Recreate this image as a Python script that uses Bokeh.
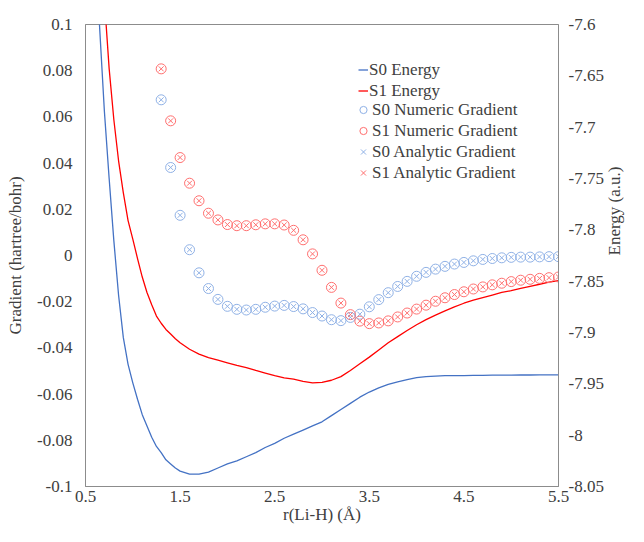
import math
from bokeh.plotting import figure
from bokeh.models import Range1d, LinearAxis, FixedTicker, Legend, LegendItem
from bokeh.embed import file_html
from bokeh.resources import INLINE

# ---- data ----
r_energy = [0.60, 0.65, 0.70, 0.75, 0.80, 0.85, 0.90, 0.95, 1.00, 1.05, 1.10, 1.15,
            1.20, 1.25, 1.30, 1.35, 1.40, 1.45, 1.50, 1.60, 1.70, 1.80, 1.90, 2.00,
            2.10, 2.20, 2.30, 2.40, 2.50, 2.60, 2.70, 2.80, 2.90, 3.00, 3.10, 3.20,
            3.30, 3.40, 3.50, 3.60, 3.70, 3.80, 3.90, 4.00, 4.10, 4.20, 4.30, 4.40,
            4.50, 4.60, 4.70, 4.80, 4.90, 5.00, 5.10, 5.20, 5.30, 5.40, 5.50]
s0_energy = [-7.520, -7.604, -7.685, -7.750, -7.811, -7.864, -7.905, -7.931, -7.949, -7.965,
             -7.980, -7.991, -8.002, -8.011, -8.017, -8.024, -8.028, -8.032, -8.035, -8.038,
             -8.038, -8.036, -8.032, -8.028, -8.025, -8.021, -8.017, -8.012, -8.008, -8.003,
             -7.999, -7.995, -7.991, -7.987, -7.981, -7.975, -7.969, -7.963, -7.958, -7.954,
             -7.9505, -7.948, -7.946, -7.944, -7.943, -7.9425, -7.942, -7.942, -7.942, -7.9418,
             -7.9417, -7.9416, -7.9415, -7.9415, -7.9414, -7.9414, -7.9413, -7.9413, -7.9413]
s1_energy = [-7.430, -7.500, -7.576, -7.643, -7.693, -7.733, -7.764, -7.791, -7.809, -7.828,
             -7.846, -7.861, -7.873, -7.884, -7.891, -7.897, -7.9015, -7.906, -7.910, -7.9163,
             -7.921, -7.9245, -7.927, -7.9295, -7.932, -7.9343, -7.937, -7.9395, -7.942, -7.9442,
             -7.9455, -7.9475, -7.949, -7.9485, -7.9465, -7.943, -7.937, -7.9305, -7.924, -7.917,
             -7.910, -7.904, -7.898, -7.8925, -7.8875, -7.883, -7.879, -7.875, -7.8715, -7.8685,
             -7.866, -7.8635, -7.861, -7.8593, -7.857, -7.855, -7.853, -7.851, -7.8495]

r_grad = [1.3, 1.4, 1.5, 1.6, 1.7, 1.8, 1.9, 2.0, 2.1, 2.2, 2.3, 2.4, 2.5, 2.6, 2.7,
          2.8, 2.9, 3.0, 3.1, 3.2, 3.3, 3.4, 3.5, 3.6, 3.7, 3.8, 3.9, 4.0, 4.1, 4.2,
          4.3, 4.4, 4.5, 4.6, 4.7, 4.8, 4.9, 5.0, 5.1, 5.2, 5.3, 5.4, 5.5]
s0_grad = [0.0674, 0.0381, 0.0174, 0.0025, -0.0075, -0.0143, -0.0190, -0.0220, -0.0233, -0.0236,
           -0.0233, -0.0224, -0.0219, -0.0216, -0.0221, -0.0231, -0.0247, -0.0262, -0.0278, -0.0282,
           -0.0268, -0.0254, -0.0222, -0.0191, -0.0161, -0.0134, -0.0112, -0.0090, -0.0073, -0.0059,
           -0.0047, -0.0037, -0.0030, -0.0023, -0.0017, -0.0013, -0.0010, -0.0008, -0.0007, -0.0007,
           -0.0006, -0.0005, -0.0005]
s1_grad = [0.0808, 0.0583, 0.0424, 0.0313, 0.0237, 0.0183, 0.0154, 0.0134, 0.0129, 0.0129,
           0.0133, 0.0137, 0.0137, 0.0132, 0.0109, 0.0068, 0.0007, -0.0064, -0.0138, -0.0206,
           -0.0256, -0.0284, -0.0295, -0.0292, -0.0283, -0.0266, -0.0249, -0.0232, -0.0215, -0.0198,
           -0.0183, -0.0169, -0.0157, -0.0145, -0.0136, -0.0127, -0.0120, -0.0113, -0.0107, -0.0103,
           -0.0099, -0.0096, -0.0093]

x_ticks = [0.5, 1.5, 2.5, 3.5, 4.5, 5.5]
x_tick_labels = ["0.5", "1.5", "2.5", "3.5", "4.5", "5.5"]
grad_ticks = [-0.1, -0.08, -0.06, -0.04, -0.02, 0, 0.02, 0.04, 0.06, 0.08, 0.1]
grad_tick_labels = ["-0.1", "-0.08", "-0.06", "-0.04", "-0.02", "0", "0.02", "0.04", "0.06", "0.08", "0.1"]
energy_ticks = [-8.05, -8.0, -7.95, -7.9, -7.85, -7.8, -7.75, -7.7, -7.65, -7.6]
energy_tick_labels = ["-8.05", "-8", "-7.95", "-7.9", "-7.85", "-7.8", "-7.75", "-7.7", "-7.65", "-7.6"]

# ---- style ----
FONT = "'Liberation Serif', 'Times New Roman', Times, serif"
FS = "17px"
TXT = "#404040"
AXC = "#8c8c8c"
BLUE = "#4472C4"
RED = "#FF0000"
LBLUE = "#8FB1E6"
LRED = "#FF6F6F"

W, H = 636, 526
TOP, BOTTOM = 24, 39
FH = H - TOP - BOTTOM

p = figure(width=W, height=H, x_range=Range1d(0.5, 5.5), y_range=Range1d(-0.1, 0.1),
           output_backend="svg", toolbar_location=None,
           min_border_left=85, min_border_right=75, min_border_top=TOP, min_border_bottom=38)
p.extra_y_ranges = {"energy": Range1d(-8.05, -7.6)}
p.xgrid.visible = False
p.ygrid.visible = False
p.outline_line_color = AXC
p.outline_line_width = 1
p.background_fill_color = "white"
p.border_fill_color = "white"

p.xaxis.axis_label = "r(Li-H) (Å)"
p.yaxis.axis_label = "Gradient (hartree/bohr)"
p.xaxis.ticker = FixedTicker(ticks=x_ticks)
p.xaxis.major_label_overrides = dict(zip(x_ticks, x_tick_labels))
p.yaxis.ticker = FixedTicker(ticks=grad_ticks)
p.yaxis.major_label_overrides = dict(zip(grad_ticks, grad_tick_labels))

eax = LinearAxis(y_range_name="energy", axis_label="Energy (a.u.)",
                 ticker=FixedTicker(ticks=energy_ticks))
eax.major_label_overrides = dict(zip(energy_ticks, energy_tick_labels))
eax.axis_label_orientation = math.pi / 2
p.add_layout(eax, "right")

for ax in [p.xaxis[0], p.yaxis[0], eax]:
    ax.axis_line_color = AXC
    ax.major_tick_out = 0
    ax.major_tick_in = 0
    ax.minor_tick_out = 0
    ax.minor_tick_in = 0
    ax.major_label_text_font = FONT
    ax.major_label_text_font_size = FS
    ax.major_label_text_color = TXT
    ax.axis_label_text_font = FONT
    ax.axis_label_text_font_size = FS
    ax.axis_label_text_font_style = "normal"
    ax.axis_label_text_color = TXT

p.xaxis.major_label_standoff = 4
p.xaxis.axis_label_standoff = 0
p.yaxis.major_label_standoff = 13
p.yaxis.axis_label_standoff = 9
eax.major_label_standoff = 10
eax.axis_label_standoff = 8

l0 = p.line(r_energy, s0_energy, y_range_name="energy", line_color=BLUE, line_width=1.3)
l1 = p.line(r_energy, s1_energy, y_range_name="energy", line_color=RED, line_width=1.3)
c0 = p.scatter(r_grad, s0_grad, marker="circle", size=10, fill_alpha=0, line_color=LBLUE, line_width=1)
c1 = p.scatter(r_grad, s1_grad, marker="circle", size=10, fill_alpha=0, line_color=LRED, line_width=1)
x0 = p.scatter(r_grad, s0_grad, marker="x", size=7, line_color=LBLUE, line_width=1)
x1 = p.scatter(r_grad, s1_grad, marker="x", size=7, line_color=LRED, line_width=1)

common = dict(border_line_alpha=0, background_fill_alpha=0, padding=0, margin=0,
              label_text_font=FONT, label_text_font_size=FS, label_text_color=TXT,
              spacing=0)
leg_a = Legend(items=[LegendItem(label="S0 Energy", renderers=[l0]),
                      LegendItem(label="S1 Energy", renderers=[l1])],
               location=(273, FH - 78), glyph_width=10, glyph_height=21, label_height=21,
               label_standoff=1, **common)
leg_b = Legend(items=[LegendItem(label="S0 Numeric Gradient", renderers=[c0]),
                      LegendItem(label="S1 Numeric Gradient", renderers=[c1]),
                      LegendItem(label="S0 Analytic Gradient", renderers=[x0]),
                      LegendItem(label="S1 Analytic Gradient", renderers=[x1])],
               location=(269, FH - 160), glyph_width=18, glyph_height=21, label_height=20,
               label_standoff=-3, **common)
p.add_layout(leg_a)
p.add_layout(leg_b)

open("out.html", "w").write(file_html(p, INLINE))
